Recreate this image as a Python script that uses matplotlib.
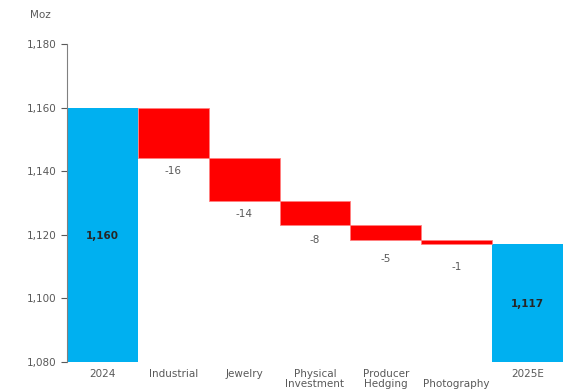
import matplotlib
matplotlib.use("Agg")
import matplotlib.pyplot as plt
import numpy as np

categories = ["2024", "Industrial", "Jewelry", "Physical\nInvestment", "Producer\nHedging", "\nPhotography", "2025E"]
start_value = 1160.0
changes = [-15.8, -13.6, -7.6, -4.6, -1.2]
change_labels = ["-16", "-14", "-8", "-5", "-1"]
end_value = 1117.2
total_labels = ["1,160", "1,117"]
yticks = [1080, 1100, 1120, 1140, 1160, 1180]

blue = "#00B0F0"
red = "#FF0000"
gray = "#595959"
label_offsets_px = [13, 13, 15, 19, 23]

fig = plt.figure(figsize=(5.7, 3.92), dpi=100)
ax = fig.add_axes([67/570, 1-362/392, (563-67)/570, (362-44)/392])

base = 1080
x = np.arange(len(categories))

# totals
ax.bar(x[0], start_value - base, bottom=base, width=1.0, color=blue, edgecolor="none")
ax.bar(x[-1], end_value - base, bottom=base, width=1.0, color=blue, edgecolor="none")
ax.text(x[0], (start_value + base) / 2 - 0.5, total_labels[0], ha="center", va="center",
        fontsize=7.5, fontweight="bold", color="#262626")
ax.text(x[-1], (end_value + base) / 2 - 0.5, total_labels[1], ha="center", va="center",
        fontsize=7.5, fontweight="bold", color="#262626")

level = start_value
for i, (c, lab) in enumerate(zip(changes, change_labels)):
    xi = x[i + 1]
    ax.bar(xi, c, bottom=level, width=1.0, color=red, edgecolor="#FF8080", linewidth=0.6)
    new_level = level + c
    ax.annotate(lab, (xi, new_level), xytext=(0, -label_offsets_px[i] * 0.72),
                textcoords="offset points",
                ha="center", va="center", fontsize=7.5, color=gray)
    level = new_level

ax.set_xlim(-0.5, len(categories) - 0.5)
ax.set_ylim(1080, 1180)
ax.set_yticks(yticks)
ax.set_yticklabels([f"{v:,}" for v in yticks])
ax.set_xticks(x)
ax.set_xticklabels(categories)
ax.tick_params(axis="y", colors=gray, labelsize=7.5, length=4, width=0.8, direction="out")
ax.tick_params(axis="x", colors=gray, labelsize=7.5, length=0, pad=5)
for lab in ax.get_xticklabels():
    lab.set_verticalalignment("top")
    lab.set_linespacing(1.0)

for s in ["top", "right", "bottom"]:
    ax.spines[s].set_visible(False)
ax.spines["left"].set_color("#808080")
ax.spines["left"].set_linewidth(0.8)

fig.text(40/570, 1-15/392, "Moz", ha="center", va="center", fontsize=7.5, color=gray)

fig.savefig("out.png", dpi=100)
